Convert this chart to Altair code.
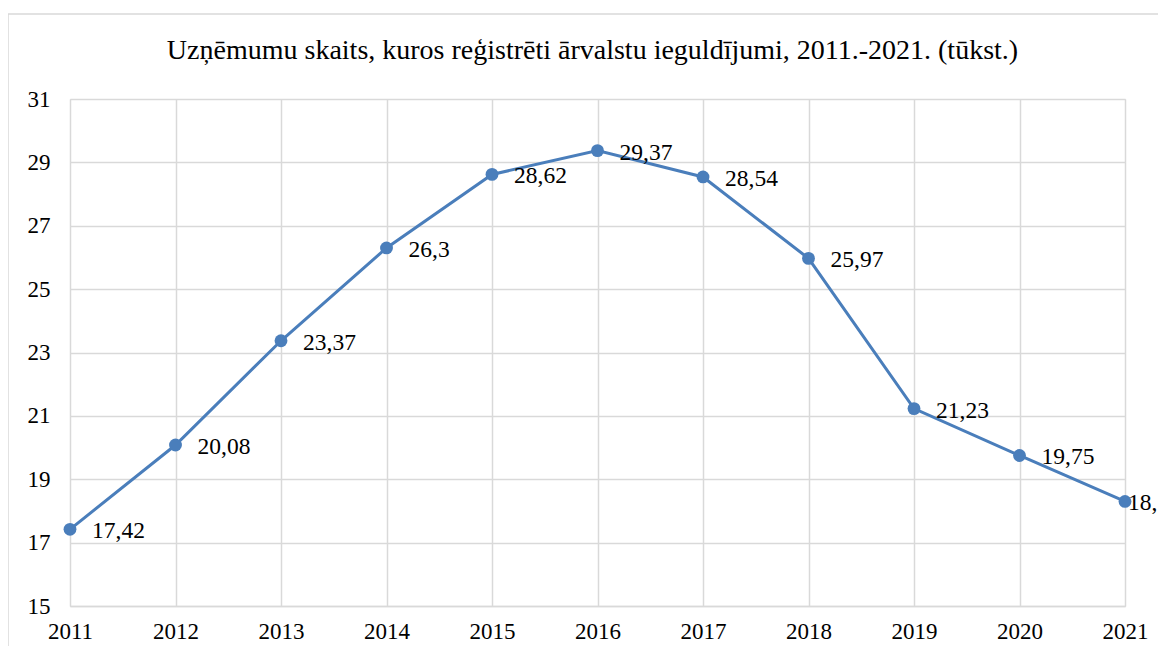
import altair as alt
import pandas as pd

years = [2011, 2012, 2013, 2014, 2015, 2016, 2017, 2018, 2019, 2020, 2021]
values = [17.42, 20.08, 23.37, 26.3, 28.62, 29.37, 28.54, 25.97, 21.23, 19.75, 18.3]
y_ticks = [15, 17, 19, 21, 23, 25, 27, 29, 31]
title_text = "Uzņēmumu skaits, kuros reģistrēti ārvalstu ieguldījumi, 2011.-2021. (tūkst.)"

df = pd.DataFrame({"year": years, "value": values})
df["label"] = [f"{v:g}".replace(".", ",") for v in values]
df["last"] = [y == years[-1] for y in years]

FONT = "Liberation Serif, Times New Roman, serif"
BLUE = "#4A7EBB"
GRID = "#D9D9D9"
W, H = 1055, 507

x_enc = alt.X("year:Q", scale=alt.Scale(domain=[years[0], years[-1]], nice=False, zero=False),
              axis=alt.Axis(values=years, format="d", title=None, grid=True, gridColor=GRID,
                            gridWidth=1.5, domain=True, domainColor=GRID, domainWidth=1.5,
                            ticks=False, labelPadding=14, labelFontSize=23, labelFont=FONT,
                            labelColor="black", labelFlush=False))
y_enc = alt.Y("value:Q", scale=alt.Scale(domain=[15, 31], nice=False, zero=False),
              axis=alt.Axis(values=y_ticks, title=None, grid=True, gridColor=GRID, gridWidth=1.5,
                            domain=False, ticks=False, labelPadding=20, labelFontSize=23,
                            labelFont=FONT, labelColor="black"))

base = alt.Chart(df)
one = alt.Chart(pd.DataFrame({"t": [title_text]}))

frame = one.mark_rect(
    fill=None, stroke=GRID, strokeWidth=1.5
).encode(
    x=alt.value(-62), x2=alt.value(W + 60), y=alt.value(-85), y2=alt.value(H + 80)
)

title = one.mark_text(
    align="center", baseline="alphabetic", fontSize=28, font=FONT, color="black"
).encode(x=alt.value(W / 2 - 5), y=alt.value(-40), text="t:N")

line = base.mark_line(color=BLUE, strokeWidth=3).encode(x=x_enc, y=y_enc)
points = base.mark_circle(color=BLUE, size=165, opacity=1).encode(x="year:Q", y="value:Q")
labels = base.transform_filter("!datum.last").mark_text(
    align="left", baseline="middle", dx=22, dy=2, fontSize=23.5, font=FONT, color="black"
).encode(x="year:Q", y="value:Q", text="label:N")
last_label = base.transform_filter("datum.last").mark_text(
    align="left", baseline="middle", dx=3, dy=2, fontSize=23.5, font=FONT, color="black"
).encode(x="year:Q", y="value:Q", text="label:N")

chart = alt.layer(frame, title, line, points, labels, last_label).properties(
    width=W, height=H,
    autosize=alt.AutoSizeParams(type="none"),
    padding={"left": 62, "top": 91, "right": 33, "bottom": 40},
).configure_view(stroke=None).configure(background="white")

chart.save("out.html", embed_options={"renderer": "svg", "actions": False})
